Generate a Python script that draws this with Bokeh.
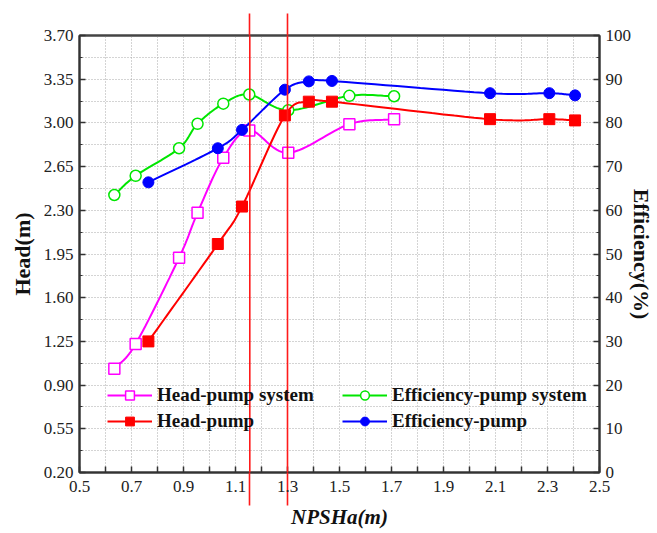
import numpy as np
from bokeh.plotting import figure
from bokeh.models import (Range1d, LinearAxis, FixedTicker, PrintfTickFormatter,
                          Legend, LegendItem, Span)
from bokeh.embed import file_html
from bokeh.resources import INLINE

# Pump-system measurements (head on left axis, efficiency on right axis)
npsha_system = [0.634, 0.716, 0.883, 0.954, 1.053, 1.153, 1.303, 1.538, 1.710]
head_system = [1.03, 1.23, 1.92, 2.28, 2.72, 2.94, 2.76, 2.99, 3.03]
eff_system = [63.5, 67.9, 74.2, 79.8, 84.4, 86.5, 82.9, 86.2, 86.1]

# Pump-only measurements
npsha_pump = [0.765, 1.032, 1.125, 1.290, 1.382, 1.471, 2.079, 2.307, 2.406]
head_pump = [1.25, 2.03, 2.33, 3.06, 3.17, 3.17, 3.03, 3.03, 3.02]
eff_pump = [66.4, 74.2, 78.4, 87.6, 89.5, 89.6, 86.8, 86.8, 86.3]

# Critical NPSHa positions marked with vertical lines
critical_npsha = [1.155, 1.30]

# Axis ticks
x_ticks = [0.5, 0.6, 0.7, 0.8, 0.9, 1.0, 1.1, 1.2, 1.3, 1.4, 1.5,
           1.6, 1.7, 1.8, 1.9, 2.0, 2.1, 2.2, 2.3, 2.4, 2.5]
x_unlabelled = [0.6, 0.8, 1.0, 1.2, 1.4, 1.6, 1.8, 2.0, 2.2, 2.4]
head_ticks = [0.20, 0.55, 0.90, 1.25, 1.60, 1.95, 2.30, 2.65, 3.00, 3.35, 3.70]
head_minor = [0.375, 0.725, 1.075, 1.425, 1.775, 2.125, 2.475, 2.825, 3.175, 3.525]
eff_ticks = [0, 10, 20, 30, 40, 50, 60, 70, 80, 90, 100]
eff_minor = [5, 15, 25, 35, 45, 55, 65, 75, 85, 95]


def spline_path(xs, ys, steps=16):
    """Smooth Catmull-Rom path through the given points."""
    xs = np.asarray(xs, float)
    ys = np.asarray(ys, float)
    px = np.concatenate([[2 * xs[0] - xs[1]], xs, [2 * xs[-1] - xs[-2]]])
    py = np.concatenate([[2 * ys[0] - ys[1]], ys, [2 * ys[-1] - ys[-2]]])
    t = np.linspace(0, 1, steps, endpoint=False)
    ox, oy = [], []
    for i in range(1, len(px) - 2):
        for arr, out in ((px, ox), (py, oy)):
            p0, p1, p2, p3 = arr[i - 1], arr[i], arr[i + 1], arr[i + 2]
            seg = 0.5 * ((2 * p1) + (-p0 + p2) * t
                         + (2 * p0 - 5 * p1 + 4 * p2 - p3) * t ** 2
                         + (-p0 + 3 * p1 - 3 * p2 + p3) * t ** 3)
            out.extend(seg.tolist())
    ox.append(float(xs[-1]))
    oy.append(float(ys[-1]))
    return ox, oy


SERIF = "Liberation Serif"
MAGENTA, RED, GREEN, BLUE = "#ff00ff", "#ff0000", "#00e600", "#0000ff"
MARK_RED = "#ff1a1a"

p = figure(width=657, height=533, output_backend="svg", toolbar_location=None,
           x_range=Range1d(0.5, 2.5), y_range=Range1d(0.2, 3.7),
           min_border_left=79, min_border_right=55, min_border_top=35,
           min_border_bottom=61, background_fill_color="white",
           border_fill_color="white")
p.extra_y_ranges = {"eff": Range1d(0, 100)}

p.outline_line_color = "#444444"
p.outline_line_width = 2


def style_axis(ax, ticks, minor, fmt):
    ax.ticker = FixedTicker(ticks=ticks, minor_ticks=minor)
    ax.formatter = PrintfTickFormatter(format=fmt)
    ax.axis_line_color = "#333333"
    ax.axis_line_width = 2
    ax.major_tick_in = 6
    ax.major_tick_out = 0
    ax.minor_tick_in = 3
    ax.minor_tick_out = 0
    ax.major_tick_line_color = "#333333"
    ax.minor_tick_line_color = "#333333"
    ax.major_tick_line_width = 1.5
    ax.major_label_text_font = SERIF
    ax.major_label_text_font_size = "17px"
    ax.major_label_text_color = "#222222"
    ax.axis_label_text_font = SERIF
    ax.axis_label_text_font_style = "bold"
    ax.axis_label_text_color = "#111111"


# Bottom axis; its minor ticks carry the critical-NPSHa marks below the frame
xax = p.xaxis[0]
style_axis(xax, x_ticks, critical_npsha, "%.1f")
xax.major_label_overrides = {v: "" for v in x_unlabelled}
xax.minor_tick_in = 0
xax.minor_tick_out = 33
xax.minor_tick_line_color = MARK_RED
xax.minor_tick_line_width = 1.6
# pull the tick labels back up next to the axis line, past the long red ticks
xax.major_label_standoff = -25
xax.axis_label = "NPSHa(m)"
xax.axis_label_text_font_style = "bold italic"
xax.axis_label_text_font_size = "21px"
xax.axis_label_standoff = 10

# Left axis: head
yax = p.yaxis[0]
style_axis(yax, head_ticks, head_minor, "%.2f")
yax.major_label_standoff = 6
yax.axis_label = "Head(m)"
yax.axis_label_text_font_size = "22px"
yax.axis_label_standoff = 6

# Right axis: efficiency
eff_axis = LinearAxis(y_range_name="eff")
style_axis(eff_axis, eff_ticks, eff_minor, "%d")
eff_axis.major_label_standoff = 6
eff_axis.axis_label = "Efficiency(%)"
eff_axis.axis_label_text_font_size = "22px"
eff_axis.axis_label_standoff = -5
p.add_layout(eff_axis, "right")

# Top border axis; ticks continue the critical-NPSHa marks above the frame
top_axis = LinearAxis(ticker=FixedTicker(ticks=[], minor_ticks=critical_npsha),
                      major_label_text_font_size="0px")
top_axis.axis_line_color = "#444444"
top_axis.axis_line_width = 2
top_axis.major_tick_in = 0
top_axis.major_tick_out = 0
top_axis.minor_tick_in = 0
top_axis.minor_tick_out = 22
top_axis.minor_tick_line_color = MARK_RED
top_axis.minor_tick_line_width = 1.6
p.add_layout(top_axis, "above")

for g in (p.xgrid[0], p.ygrid[0]):
    g.grid_line_color = "#a8a8a8"
    g.grid_line_dash = "1 2"
    g.grid_line_width = 1
    g.minor_grid_line_color = None
p.ygrid[0].minor_grid_line_color = "#a8a8a8"
p.ygrid[0].minor_grid_line_dash = "1 2"

# Efficiency - pump system
sx, sy = spline_path(npsha_system, eff_system)
r_es_line = p.line(sx, sy, line_color=GREEN, line_width=2, y_range_name="eff")
r_es_pts = p.scatter(npsha_system, eff_system, marker="circle", size=11,
                     fill_color="white", line_color=GREEN, line_width=1.5,
                     y_range_name="eff")

# Head - pump system
sx, sy = spline_path(npsha_system, head_system)
r_hs_line = p.line(sx, sy, line_color=MAGENTA, line_width=2)
r_hs_pts = p.scatter(npsha_system, head_system, marker="square", size=11,
                     fill_color="white", line_color=MAGENTA, line_width=1.5)

# Head - pump
sx, sy = spline_path(npsha_pump, head_pump)
r_hp_line = p.line(sx, sy, line_color=RED, line_width=2)
r_hp_pts = p.scatter(npsha_pump, head_pump, marker="square", size=11,
                     fill_color=RED, line_color=RED)

# Efficiency - pump
sx, sy = spline_path(npsha_pump, eff_pump)
r_ep_line = p.line(sx, sy, line_color=BLUE, line_width=2, y_range_name="eff")
r_ep_pts = p.scatter(npsha_pump, eff_pump, marker="circle", size=11,
                     fill_color=BLUE, line_color=BLUE, y_range_name="eff")

# Vertical marks at the critical NPSHa values inside the frame
for xc in critical_npsha:
    p.add_layout(Span(location=xc, dimension="height", line_color=MARK_RED,
                      line_width=1.6))

legend_style = dict(background_fill_alpha=0, border_line_alpha=0,
                    label_text_font=SERIF, label_text_font_style="bold",
                    label_text_font_size="19px", label_text_color="#111111",
                    glyph_width=45, glyph_height=22, label_height=22,
                    label_standoff=5, spacing=4, padding=0, margin=0)

leg_head = Legend(items=[
    LegendItem(label="Head-pump system", renderers=[r_hs_line, r_hs_pts]),
    LegendItem(label="Head-pump", renderers=[r_hp_line, r_hp_pts]),
], location=(28, 40), **legend_style)
leg_eff = Legend(items=[
    LegendItem(label="Efficiency-pump system", renderers=[r_es_line, r_es_pts]),
    LegendItem(label="Efficiency-pump", renderers=[r_ep_line, r_ep_pts]),
], location=(263, 40), **legend_style)
p.add_layout(leg_head)
p.add_layout(leg_eff)

open("out.html", "w").write(file_html(p, INLINE))
